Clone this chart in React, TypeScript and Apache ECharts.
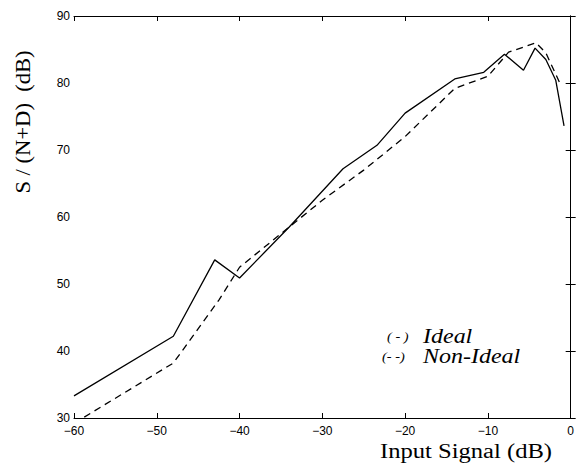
import React, { useEffect, useRef } from "react";
import * as echarts from "echarts";

const xTicks = [-60, -50, -40, -30, -20, -10, 0];
const yTicks = [30, 40, 50, 60, 70, 80, 90];

const idealX = [-60, -48, -43, -40, -34, -27.5, -23.4, -20, -14, -10.5, -8, -5.7, -4.3, -3, -1.8, -0.8];
const idealY = [33.3, 42.2, 53.6, 50.9, 58.5, 67.2, 70.7, 75.5, 80.6, 81.6, 84.3, 81.9, 85.2, 83.5, 80.4, 73.6];

const nonIdealX = [-60, -48, -42.5, -40, -35, -30, -25, -20, -14, -10, -7.5, -4.2, -3, -1.2];
const nonIdealY = [29.2, 38.2, 47.6, 52.5, 57.5, 62.5, 67, 72, 79.2, 81, 84.6, 86, 84.5, 79.7];

export default function App() {
  const ref = useRef<HTMLDivElement>(null);
  useEffect(() => {
    if (!ref.current) return;
    const chart = echarts.init(ref.current, null, { renderer: "svg" });
    const tickFont = { color: "#000", fontFamily: "Liberation Sans", fontSize: 12 };
    const lineStyle = { color: "#000", width: 1 };
    const serif = { fill: "#000", fontFamily: "Liberation Serif", fontSize: 20 };
    chart.setOption({
      animation: false,
      backgroundColor: "#fff",
      grid: { left: 74, right: 2, top: 16, bottom: 52, containLabel: false },
      xAxis: [
        {
          type: "value", min: -60, max: 0, interval: 10, position: "bottom",
          axisLine: { show: true, lineStyle },
          axisTick: { show: true, inside: true, length: 5, lineStyle },
          axisLabel: { ...tickFont, margin: 7, formatter: (v: number) => (xTicks.includes(v) ? String(v).replace("-", "\u2212") : "") },
          splitLine: { show: false },
        },
        {
          type: "value", min: -60, max: 0, interval: 10, position: "top",
          axisLine: { show: true, lineStyle },
          axisTick: { show: true, inside: true, length: 5, lineStyle },
          axisLabel: { show: false },
          splitLine: { show: false },
        },
      ],
      yAxis: [
        {
          type: "value", min: 30, max: 90, interval: 10, position: "left",
          axisLine: { show: true, lineStyle },
          axisTick: { show: true, inside: true, length: 5, lineStyle },
          axisLabel: { ...tickFont, margin: 4, formatter: (v: number) => (yTicks.includes(v) ? String(v) : "") },
          splitLine: { show: false },
        },
        {
          type: "value", min: 30, max: 90, interval: 10, position: "right",
          axisLine: { show: true, lineStyle },
          axisTick: { show: true, inside: true, length: 5, lineStyle },
          axisLabel: { show: false },
          splitLine: { show: false },
        },
      ],
      series: [
        {
          name: "Ideal", type: "line", showSymbol: false, symbol: "none", clip: true,
          data: idealX.map((x, i) => [x, idealY[i]]),
          lineStyle: { color: "#000", width: 1.3, type: "solid" },
        },
        {
          name: "Non-Ideal", type: "line", showSymbol: false, symbol: "none", clip: true,
          data: nonIdealX.map((x, i) => [x, nonIdealY[i]]),
          lineStyle: { color: "#000", width: 1.3, type: [7, 5] },
        },
      ],
      graphic: [
        {
          type: "text", x: 23, y: 122, rotation: Math.PI / 2, scaleX: 1.13,
          style: { ...serif, text: "S / (N+D)  (dB)", align: "center", verticalAlign: "middle" },
        },
        {
          type: "text", x: 466, y: 451.5, scaleX: 1.23,
          style: { ...serif, text: "Input Signal (dB)", align: "center", verticalAlign: "middle" },
        },
        {
          type: "text", x: 387, y: 337, scaleX: 1.2,
          style: { fill: "#000", fontFamily: "Liberation Serif", fontStyle: "italic", fontSize: 12, text: "( - )", align: "left", verticalAlign: "middle" },
        },
        {
          type: "text", x: 423, y: 336.5, scaleX: 1.2,
          style: { ...serif, fontStyle: "italic", text: "Ideal", align: "left", verticalAlign: "middle" },
        },
        {
          type: "text", x: 382, y: 357, scaleX: 1.2,
          style: { fill: "#000", fontFamily: "Liberation Serif", fontStyle: "italic", fontSize: 12, text: "(- -)", align: "left", verticalAlign: "middle" },
        },
        {
          type: "text", x: 423, y: 356.5, scaleX: 1.2,
          style: { ...serif, fontStyle: "italic", text: "Non-Ideal", align: "left", verticalAlign: "middle" },
        },
      ],
    });
    return () => chart.dispose();
  }, []);
  return <div ref={ref} style={{ position: "fixed", left: 0, top: 0, width: 577, height: 470 }} />;
}
